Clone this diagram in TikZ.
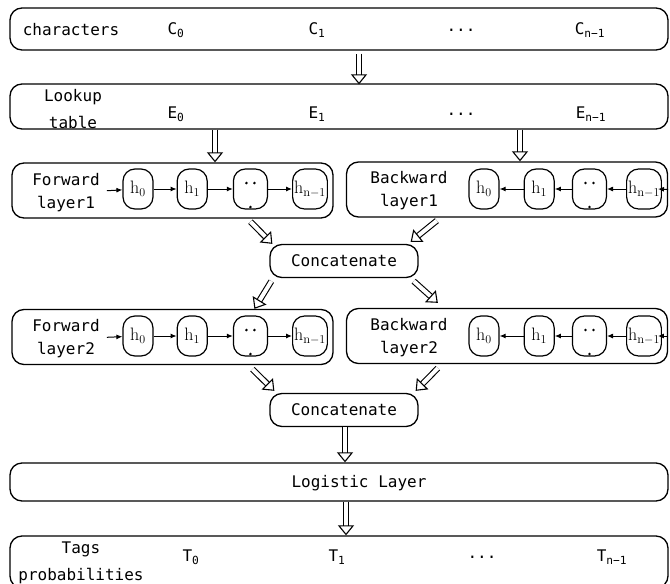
\documentclass[tikz,border=0pt]{standalone}
\usepackage{amsmath,amssymb}
\usepackage{fontspec}
\setmonofont{DejaVu Sans Mono}
\usepackage{tikz}
\usetikzlibrary{arrows.meta, positioning, calc}
\tikzset{
  font=\ttfamily\fontsize{16}{19}\selectfont,
  node distance=24pt,
  baseblock/.style={
    rectangle, rounded corners=12pt, draw, line width=1.3pt,
    inner sep=0pt
  },
  rowblock/.style={baseblock, minimum width=658pt},
  layerblock/.style={baseblock, minimum width=321pt, minimum height=55pt},
  catblock/.style={baseblock, minimum width=148pt, minimum height=33pt},
  hblock/.style={
    rectangle, rounded corners=12pt, draw, line width=1.2pt,
    minimum width=30pt, minimum height=40pt, inner sep=1.5pt,
    font=\rmfamily\fontsize{18}{20}\selectfont
  },
  dotsblock/.style={
    hblock, minimum width=34pt,
    path picture={
      \fill ($(path picture bounding box.center)+(-4pt,6pt)$) circle (1.4pt);
      \fill ($(path picture bounding box.center)+(4pt,6pt)$) circle (1.4pt);
      \fill ($(path picture bounding box.center)+(0pt,-18pt)$) circle (1.4pt);
    }
  },
  labeltext/.style={align=center, inner xsep=7pt, font=\ttfamily\fontsize{16}{23}\selectfont},
  stepline/.style={draw, -{Latex[length=6pt, width=5pt]}, line width=1pt},
  hollowline/.style={
    draw, double, double distance=4pt, line width=1.1pt,
    -{Triangle[open, length=10pt, width=16pt]}
  }
}

\begin{document}
\begin{tikzpicture}[x=1pt, y=-1pt]
  \useasboundingbox (0,0) rectangle (670,584);

  % characters
  \node[rowblock, minimum height=42pt] (chars) at (339,29) {};
  \node[labeltext] (chars_lbl) at (71,30) {characters};
  \node (c0) at (176,30) {C\textsubscript{0}};
  \node (c1) at (317,30) {C\textsubscript{1}};
  \node (cdots) at (461,30) {...};
  \node (cn) at (590,30) {C\textsubscript{n−1}};

  % lookup table
  \node[rowblock, minimum height=45pt] (lookup) at (339,106.5) {};
  \node[labeltext, font=\ttfamily\fontsize{16}{27}\selectfont] (lookup_lbl) at (73,109) {Lookup\\table};
  \node (e0) at (176,114) {E\textsubscript{0}};
  \node (e1) at (317,114) {E\textsubscript{1}};
  \node (edots) at (461,114) {...};
  \node (en) at (591,114) {E\textsubscript{n−1}};

  % forward layer 1
  \node[layerblock] (fwd1) at (172.5,190.5) {};
  \node[labeltext] (fwd1_lbl) at (66,193) {Forward\\layer1};
  \node[hblock] (f1h0) at (138,189) {$\mathrm{h}_0$};
  \node[hblock, right=23pt of f1h0] (f1h1) {$\mathrm{h}_1$};
  \node[dotsblock, right=25pt of f1h1] (f1dots) {};
  \node[hblock, right=24pt of f1dots] (f1hn) {$\mathrm{h}_{\mathrm{n}-1}$};

  % backward layer 1
  \node[layerblock] (bwd1) at (507,189.5) {};
  \node[labeltext] (bwd1_lbl) at (409,191) {Backward\\layer1};
  \node[hblock] (b1hn) at (644,189) {$\mathrm{h}_{\mathrm{n}-1}$};
  \node[dotsblock, left=19pt of b1hn] (b1dots) {};
  \node[hblock, left=17pt of b1dots] (b1h1) {$\mathrm{h}_1$};
  \node[hblock, left=24pt of b1h1] (b1h0) {$\mathrm{h}_0$};

  \node[catblock] (cat1) at (344,261) {Concatenate};

  % forward layer 2
  \node[layerblock] (fwd2) at (172.5,337) {};
  \node[labeltext] (fwd2_lbl) at (66,339) {Forward\\layer2};
  \node[hblock] (f2h0) at (138,336) {$\mathrm{h}_0$};
  \node[hblock, right=23pt of f2h0] (f2h1) {$\mathrm{h}_1$};
  \node[dotsblock, right=25pt of f2h1] (f2dots) {};
  \node[hblock, right=24pt of f2dots] (f2hn) {$\mathrm{h}_{\mathrm{n}-1}$};

  % backward layer 2
  \node[layerblock] (bwd2) at (507,336) {};
  \node[labeltext] (bwd2_lbl) at (409,338) {Backward\\layer2};
  \node[hblock] (b2hn) at (644,336) {$\mathrm{h}_{\mathrm{n}-1}$};
  \node[dotsblock, left=19pt of b2hn] (b2dots) {};
  \node[hblock, left=17pt of b2dots] (b2h1) {$\mathrm{h}_1$};
  \node[hblock, left=24pt of b2h1] (b2h0) {$\mathrm{h}_0$};

  \node[catblock] (cat2) at (344,410) {Concatenate};

  \node[rowblock, minimum height=38pt] (logistic) at (339,482) {};
  \node (logistic_lbl) at (359,483) {Logistic Layer};

  % output tags
  \node[rowblock, minimum height=52pt] (tags) at (339,562) {};
  \node[labeltext, font=\ttfamily\fontsize{16}{27}\selectfont] (tags_lbl) at (81,563) {Tags\\probabilities};
  \node (t0) at (191,557) {T\textsubscript{0}};
  \node (t1) at (337,557) {T\textsubscript{1}};
  \node (tdots) at (482,557) {...};
  \node (tn) at (612,557) {T\textsubscript{n−1}};

  % recurrent steps
  \draw[stepline] (fwd1_lbl) -- (f1h0);
  \draw[stepline] (f1h0) -- (f1h1);
  \draw[stepline] (f1h1) -- (f1dots);
  \draw[stepline] (f1dots) -- (f1hn);
  \draw[stepline] (bwd1.east) -- ([xshift=-4pt]b1hn.east);
  \draw[stepline] (b1hn) -- (b1dots);
  \draw[stepline] (b1dots) -- (b1h1);
  \draw[stepline] (b1h1) -- (b1h0);
  \draw[stepline] (fwd2_lbl) -- (f2h0);
  \draw[stepline] (f2h0) -- (f2h1);
  \draw[stepline] (f2h1) -- (f2dots);
  \draw[stepline] (f2dots) -- (f2hn);
  \draw[stepline] (bwd2.east) -- ([xshift=-4pt]b2hn.east);
  \draw[stepline] (b2hn) -- (b2dots);
  \draw[stepline] (b2dots) -- (b2h1);
  \draw[stepline] (b2h1) -- (b2h0);

  % data flow
  \draw[hollowline] ([xshift=20pt,yshift=-3pt]chars.south) -- ([xshift=20pt,yshift=-1pt]lookup.north);
  \draw[hollowline] ([xshift=-124pt]lookup.south) -- ([xshift=-124pt]lookup.south |- fwd1.north);
  \draw[hollowline] ([xshift=181pt]lookup.south) -- ([xshift=181pt]lookup.south |- bwd1.north);
  \draw[hollowline] ([yshift=-3pt]fwd1.south -| f1dots) -- ([xshift=3pt]cat1.north west);
  \draw[hollowline] ([xshift=91pt,yshift=-3pt]bwd1.south west) -- ([xshift=-8pt,yshift=2pt]cat1.north east);
  \draw[hollowline] ([xshift=2pt,yshift=-3pt]cat1.south west) -- ([xshift=4pt]fwd2.north -| f2dots);
  \draw[hollowline] ([xshift=-5pt,yshift=-3pt]cat1.south east) -- ([xshift=92pt,yshift=5pt]bwd2.north west);
  \draw[hollowline] ([xshift=2pt,yshift=-4pt]fwd2.south -| f2dots) -- ([xshift=5pt,yshift=2pt]cat2.north west);
  \draw[hollowline] ([xshift=92pt,yshift=-4pt]bwd2.south west) -- ([xshift=-3pt,yshift=2pt]cat2.north east);
  \draw[hollowline] ([xshift=1pt]cat2.south) -- ([xshift=1pt]cat2.south |- logistic.north);
  \draw[hollowline] ([xshift=7pt]logistic.south) -- ([xshift=7pt]tags.north);
\end{tikzpicture}
\end{document}
